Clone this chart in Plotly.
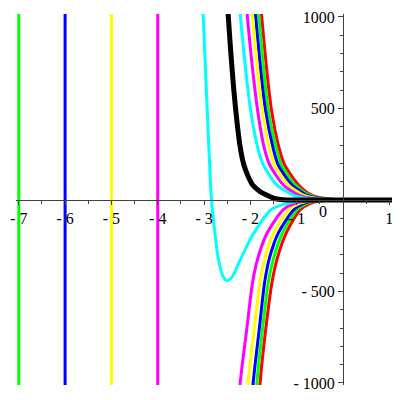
import plotly.graph_objects as go

# ---- data ----
pole_x = [-7, -6, -5, -4]
pole_colors = ["#00ff00", "#0000ff", "#ffff00", "#ff00ff"]
pole_y = [-1300, 1300]

# upper branches (x, y)
up_y = [1250, 1016, 501, 273, 191, 82, 27, 8, 1.5, 0, 0]
up_cyan_x = [-2.29, -2.22, -2.00, -1.83, -1.72, -1.43, -1.08, -0.75, -0.40, -0.1, 1.23]
up_mag_x = [-2.14, -2.07, -1.85, -1.69, -1.58, -1.29, -0.96, -0.64, -0.32, -0.05, 1.23]
up_yel_x = [-2.03, -1.96, -1.75, -1.58, -1.48, -1.18, -0.86, -0.55, -0.25, 0.0, 1.23]
up_blu_x = [-1.96, -1.89, -1.68, -1.50, -1.40, -1.10, -0.79, -0.48, -0.20, 0.05, 1.23]
up_grn_x = [-1.89, -1.82, -1.62, -1.43, -1.33, -1.03, -0.73, -0.43, -0.15, 0.1, 1.23]
up_red_x = [-1.83, -1.76, -1.55, -1.37, -1.26, -0.96, -0.68, -0.38, -0.10, 0.15, 1.23]

# lower branches
low_y = [-1250, -1000, -710, -446, -319, -182, -55, -20, -5, 0, 0]
low_mag_x = [-2.28, -2.22, -2.08, -1.95, -1.84, -1.64, -1.30, -1.05, -0.75, -0.3, 1.23]
low_yel_x = [-2.11, -2.05, -1.92, -1.79, -1.69, -1.50, -1.18, -0.95, -0.66, -0.25, 1.23]
low_blu_x = [-2.00, -1.94, -1.81, -1.69, -1.59, -1.40, -1.07, -0.86, -0.60, -0.22, 1.23]
low_grn_x = [-1.92, -1.86, -1.74, -1.61, -1.50, -1.31, -1.00, -0.79, -0.55, -0.2, 1.23]
low_red_x = [-1.85, -1.79, -1.67, -1.53, -1.42, -1.23, -0.93, -0.72, -0.50, -0.18, 1.23]

# cyan left branch with the dip
cyan_dip_x = [-3.06, -3.02, -2.84, -2.79, -2.70, -2.59, -2.51, -2.40, -2.22, -2.01, -1.79, -1.56, -1.32, -1.0, -0.6, -0.2, 1.23]
cyan_dip_y = [1250, 1016, 0, -127, -310, -419, -441, -423, -328, -219, -128, -55, -27, -8, -1, 0, 0]

# thick black curve
black_x = [-2.55, -2.48, -2.32, -2.21, -2.14, -2.05, -1.95, -1.80, -1.65, -1.50, -1.35, -1.2, 1.23]
black_y = [1350, 1016, 501, 273, 191, 130, 82, 48, 27, 10, 2, 0, 0]

x_ticks = [-7, -6, -5, -4, -3, -2, -1, 1]
x_ticktext = ["- 7", "- 6", "- 5", "- 4", "- 3", "- 2", "- 1", "1"]
y_ticks = [-1000, -500, 500, 1000]
y_ticktext = ["- 1000", "- 500", "500", "1000"]

XR = [-7.06, 1.23]
YR = [-1011, 1016]

fig = go.Figure()
for px_, c in zip(pole_x, pole_colors):
    fig.add_trace(go.Scatter(x=[px_, px_], y=pole_y, mode="lines",
                             line=dict(color=c, width=3), hoverinfo="skip"))

def add(x, y, c, w=3):
    fig.add_trace(go.Scatter(x=x, y=y, mode="lines",
                             line=dict(color=c, width=w, shape="spline", smoothing=0.7),
                             hoverinfo="skip"))

add(up_red_x, up_y, "#ff0000")
add(up_grn_x, up_y, "#00ff00")
add(up_blu_x, up_y, "#0000ff")
add(up_yel_x, up_y, "#ffff00")
add(up_mag_x, up_y, "#ff00ff")
add(up_cyan_x, up_y, "#00ffff")
add(low_red_x, low_y, "#ff0000")
add(low_grn_x, low_y, "#00ff00")
add(low_blu_x, low_y, "#0000ff")
add(low_yel_x, low_y, "#ffff00")
add(low_mag_x, low_y, "#ff00ff")
add(cyan_dip_x, cyan_dip_y, "#00ffff")
add(black_x, black_y, "#000000", 5)

font = dict(family="Liberation Serif", size=16, color="black")
fig.update_layout(
    width=400, height=400,
    margin=dict(l=8, r=8, t=6, b=23),
    paper_bgcolor="white", plot_bgcolor="white",
    showlegend=False,
    xaxis=dict(range=XR, anchor="free", position=(0 - YR[0]) / (YR[1] - YR[0]),
               automargin=False, ticklabeloverflow="allow",
               tickmode="array", tickvals=x_ticks, ticktext=x_ticktext,
               ticks="outside", ticklen=4, tickcolor="#404040", tickfont=font,
               minor=dict(tickmode="array", tickvals=[v + 0.5 for v in range(-8, 2)],
                          ticks="outside", ticklen=3, tickcolor="#404040"),
               showline=True, linecolor="#404040", linewidth=1,
               showgrid=False, zeroline=False),
    yaxis=dict(range=YR, anchor="free", position=(0 - XR[0]) / (XR[1] - XR[0]),
               automargin=False, ticklabeloverflow="allow",
               tickmode="array", tickvals=y_ticks, ticktext=y_ticktext,
               ticks="outside", ticklen=5, tickcolor="#404040", tickfont=font,
               minor=dict(tickmode="array", tickvals=[v for v in range(-900, 1000, 100) if v % 500 != 0],
                          ticks="outside", ticklen=3, tickcolor="#404040"),
               showline=True, linecolor="#404040", linewidth=1,
               showgrid=False, zeroline=False),
    annotations=[dict(x=0, y=0, xref="x", yref="y", text="0", showarrow=False,
                      xanchor="right", yanchor="top", xshift=-14, yshift=-1, font=font)],
)
fig.write_html("out.html")
